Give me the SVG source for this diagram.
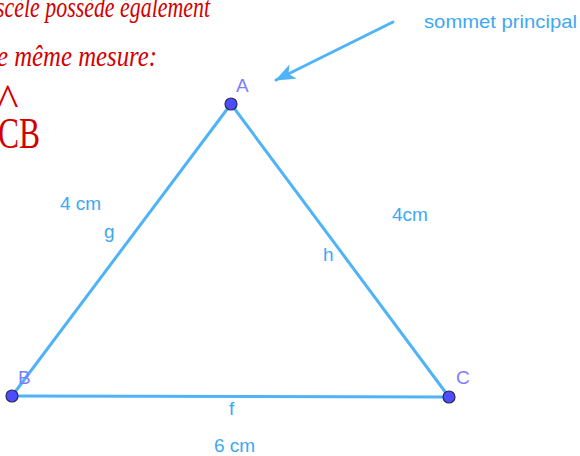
<svg xmlns="http://www.w3.org/2000/svg" width="580" height="456" viewBox="0 0 580 456">
<defs>
<style>
.seg{stroke:#4fb4f7;stroke-width:3;fill:none;stroke-linecap:round}
.pt{fill:#4d4dff;stroke:#2a2a55;stroke-width:1.2}
.lbl{font-family:"Liberation Sans",Arial,sans-serif;font-size:19px;fill:#7d7dff}
.txt{font-family:"Liberation Sans",Arial,sans-serif;font-size:19px;fill:#3ea8f2}
.hand{font-family:"Liberation Serif","DejaVu Serif",serif;font-style:italic;fill:#d40000}
</style>
<marker id="ah" viewBox="0 0 20 16" refX="19" refY="8" markerWidth="20" markerHeight="16" orient="auto" markerUnits="userSpaceOnUse">
<path d="M0,0 L20,8 L0,16 L5,8 Z" fill="#4fb4f7"/>
</marker>
</defs>
<rect width="580" height="456" fill="#ffffff"/>
<g id="handwriting">
<text class="hand" x="-4" y="17" font-size="30" textLength="214" lengthAdjust="spacingAndGlyphs">scèle possède également</text>
<text class="hand" x="-3" y="66" font-size="30" textLength="160" lengthAdjust="spacingAndGlyphs">e même mesure:</text>
<text class="hand" x="-4" y="116" font-size="46">^</text>
<text class="hand" x="-2" y="148" font-size="44" style="font-style:normal" textLength="42" lengthAdjust="spacingAndGlyphs">CB</text>
</g>
<g id="connectors">
<line id="seg-g" class="seg" x1="231" y1="104" x2="12" y2="396"/>
<line id="seg-h" class="seg" x1="231" y1="104" x2="449" y2="397"/>
<line id="seg-f" class="seg" x1="12" y1="396" x2="449" y2="397"/>
<line id="arrow" class="seg" x1="393" y1="22" x2="276" y2="80" marker-end="url(#ah)"/>
</g>
<g id="labels">
<text class="txt" x="60" y="210">4 cm</text>
<text class="txt" x="104" y="238">g</text>
<text class="txt" x="323" y="261">h</text>
<text class="txt" x="392" y="221">4cm</text>
<text class="txt" x="229" y="415">f</text>
<text class="txt" x="214" y="452">6 cm</text>
<text class="txt" x="424" y="28" font-size="20" textLength="153" lengthAdjust="spacingAndGlyphs">sommet principal</text>
</g>
<g id="node-A">
<circle class="pt" cx="231" cy="104" r="6"/>
<text class="lbl" x="236" y="92">A</text>
</g>
<g id="node-B">
<circle class="pt" cx="12" cy="396" r="6"/>
<text class="lbl" x="18" y="384">B</text>
</g>
<g id="node-C">
<circle class="pt" cx="449" cy="397" r="6"/>
<text class="lbl" x="456" y="384">C</text>
</g>
</svg>
